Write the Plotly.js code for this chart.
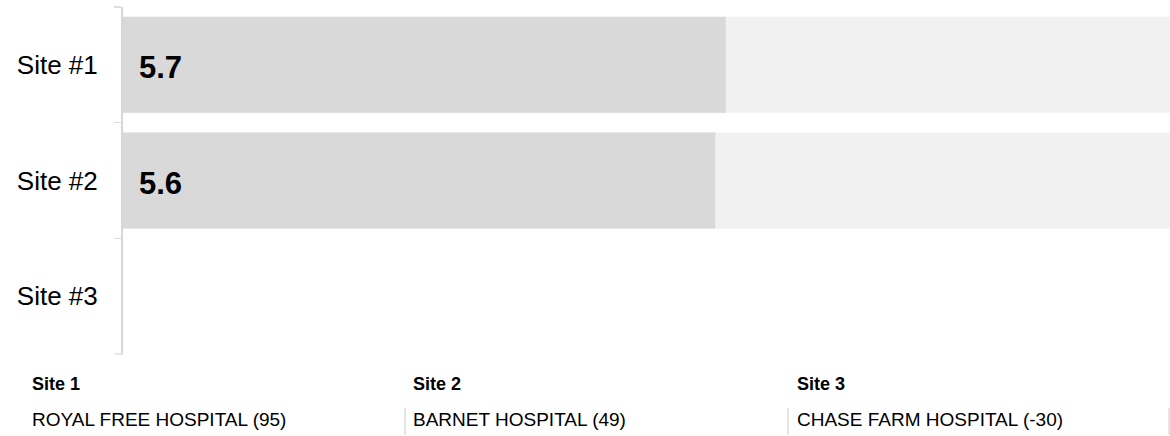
<!DOCTYPE html>
<html>
<head>
<meta charset="utf-8">
<script src="https://cdn.plot.ly/plotly-3.0.1.min.js"></script>
<style>
html,body{margin:0;padding:0;background:#fff;}
#chart{width:1170px;height:436px;}
</style>
</head>
<body>
<div id="chart"></div>
<script>
// ---- data ----
const sites = ["Site #1", "Site #2", "Site #3"];
const siteValues = [5.7, 5.6, null];
const scaleMax = 10;
const columnTitles = ["Site 1", "Site 2", "Site 3"];
const hospitalNames = ["ROYAL FREE HOSPITAL", "BARNET HOSPITAL", "CHASE FARM HOSPITAL"];
const hospitalScores = [95, 49, -30];

// ---- layout geometry ----
const W = 1170, H = 436;
const M = {l: 123, r: 0, t: 7, b: 82};
const PW = W - M.l - M.r, PH = H - M.t - M.b;
const px = x => (x - M.l) / PW;
const py = y => (M.t + PH - y) / PH;
const FONT = "Liberation Sans, Arial, sans-serif";

const bgValues = siteValues.map(v => (v === null ? null : scaleMax));

const traces = [
  {
    type: "bar", orientation: "h",
    y: sites, x: bgValues,
    marker: {color: "#f1f1f1"},
    hoverinfo: "skip", showlegend: false
  },
  {
    type: "bar", orientation: "h",
    y: sites, x: siteValues,
    marker: {color: "#d9d9d9"},
    hoverinfo: "skip", showlegend: false
  }
];

const annotations = [];
siteValues.forEach((v, i) => {
  if (v === null) return;
  annotations.push({
    x: 0, y: sites[i], xref: "x", yref: "y",
    xanchor: "left", yanchor: "middle", xshift: 14, yshift: -3,
    text: v.toFixed(1), showarrow: false,
    font: {family: FONT, size: 31, color: "#000", weight: "bold"}
  });
});

const colStarts = [32, 413, 797];
const colSeps = [405, 788, 1169];
const shapes = [];
columnTitles.forEach((t, i) => {
  annotations.push({
    x: px(colStarts[i] - 2), y: py(384), xref: "paper", yref: "paper",
    xanchor: "left", yanchor: "middle",
    text: "<b>" + t + "</b>", showarrow: false,
    font: {family: FONT, size: 18, color: "#000"}
  });
  annotations.push({
    x: px(colStarts[i] - 2), y: py(419), xref: "paper", yref: "paper",
    xanchor: "left", yanchor: "middle",
    text: hospitalNames[i] + " (" + hospitalScores[i] + ")", showarrow: false,
    font: {family: FONT, size: 19, color: "#000"}
  });
  shapes.push({
    type: "line", xref: "paper", yref: "paper",
    x0: px(colSeps[i]), x1: px(colSeps[i]), y0: py(408), y1: py(435),
    line: {color: "#cccccc", width: 1}
  });
});
// bottom boundary tick of the y axis
shapes.push({
  type: "line", xref: "paper", yref: "paper",
  x0: px(115), x1: px(123), y0: 0, y1: 0,
  line: {color: "#dddddd", width: 1.5}
});

const layout = {
  width: W, height: H,
  margin: M,
  paper_bgcolor: "#fff", plot_bgcolor: "#fff",
  barmode: "overlay", bargap: 0.17,
  showlegend: false,
  font: {family: FONT, color: "#000"},
  xaxis: {
    range: [0, 9.9], visible: false, fixedrange: true
  },
  yaxis: {
    type: "category", categoryorder: "array", categoryarray: sites,
    autorange: "reversed",
    showline: true, linecolor: "#d6d6d6", linewidth: 2,
    ticks: "outside", tickson: "boundaries", ticklen: 7, tickwidth: 1.5, tickcolor: "#dddddd",
    ticklabelstandoff: 18,
    showgrid: false, zeroline: false,
    tickfont: {family: FONT, size: 26, color: "#000"}
  },
  annotations: annotations,
  shapes: shapes
};

Plotly.newPlot("chart", traces, layout, {displayModeBar: false, staticPlot: true});
</script>
</body>
</html>
